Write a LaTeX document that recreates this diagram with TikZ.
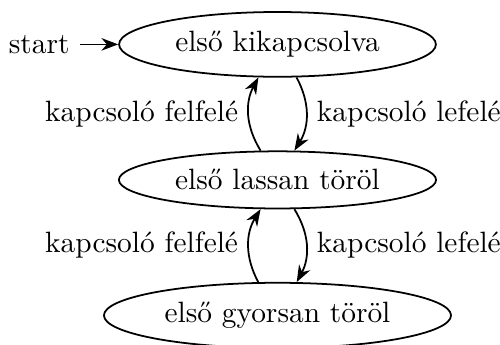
\documentclass[tikz,border=0pt]{standalone}
\usepackage{fontspec}
\usetikzlibrary{positioning,shapes.geometric,arrows.meta}
\begin{document}
\begin{tikzpicture}[allapot/.style={draw,ellipse},semithick,>=Stealth,
    node distance=46.1pt,on grid]
      \useasboundingbox (-94.4pt,15.1pt) rectangle (75.7pt,-102.2pt);
      \node[allapot] (ki) at (0,0) {első kikapcsolva};
      \node[allapot,below=of ki] (lassan) {első lassan töröl};
      \node[allapot,below=of lassan] (gyorsan) {első gyorsan töröl};
      \node[anchor=east] (start) at ([xshift=-3ex]ki.west) {start};
      \begin{scope}[->]
        \draw (start) to (ki);
        \draw (ki) to[bend left] node[right] {kapcsoló lefelé} (lassan);
        \draw (lassan) to[bend left] node[left] {kapcsoló felfelé} (ki);
        \draw (lassan) to[bend left] node[right] {kapcsoló lefelé} (gyorsan);
        \draw (gyorsan) to[bend left] node[left] {kapcsoló felfelé} (lassan);
      \end{scope}
    \end{tikzpicture}
\end{document}
